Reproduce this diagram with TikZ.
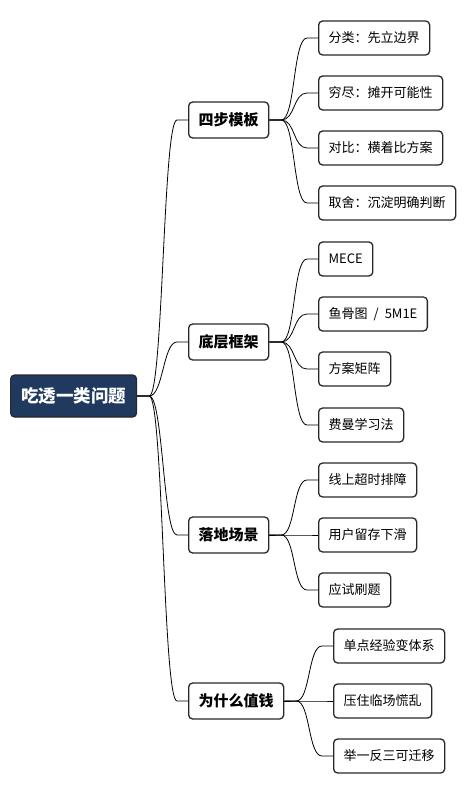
\documentclass[tikz,border=0pt]{standalone}
\usepackage{fontspec}
\setmainfont{Noto Sans CJK SC}
\definecolor{rootblue}{RGB}{31,58,94}
\definecolor{edgegray}{RGB}{40,40,40}
\tikzset{
  rootbox/.style={draw=edgegray,fill=rootblue,text=white,rounded corners=4pt,line width=1.2pt,
    font=\fontsize{17.5}{20}\selectfont\bfseries,inner xsep=10.5pt,minimum height=42pt,anchor=west},
  topicbox/.style={draw=edgegray,rounded corners=4pt,line width=1.3pt,
    font=\fontsize{15}{18}\selectfont\bfseries,inner xsep=10pt,minimum height=36pt,anchor=west},
  leafbox/.style={draw=edgegray,rounded corners=4pt,line width=1.3pt,
    font=\fontsize{13}{16}\selectfont,inner xsep=10pt,minimum height=34pt,anchor=west},
  branch/.style={draw=black,line width=0.8pt},
}
\begin{document}
\begin{tikzpicture}[x=1pt,y=-1pt]
\useasboundingbox (0,0) rectangle (475,794);
% root
\node[rootbox] (root) at (10,396) {吃透一类问题};
% main topics
\node[topicbox] (t1) at (188,120) {四步模板};
\node[topicbox] (t2) at (188,342) {底层框架};
\node[topicbox] (t3) at (188,535) {落地场景};
\node[topicbox] (t4) at (188,701) {为什么值钱};
% four steps
\node[leafbox] (a1) at (318,38)  {分类：先立边界};
\node[leafbox] (a2) at (318,93)  {穷尽：摊开可能性};
\node[leafbox] (a3) at (318,148) {对比：横着比方案};
\node[leafbox] (a4) at (318,203) {取舍：沉淀明确判断};
% frameworks
\node[leafbox] (b1) at (318,259) {MECE};
\node[leafbox] (b2) at (318,314) {鱼骨图\hspace{6pt}/\hspace{6pt}5M1E};
\node[leafbox] (b3) at (318,369) {方案矩阵};
\node[leafbox] (b4) at (318,425) {费曼学习法};
% scenes
\node[leafbox] (c1) at (318,480) {线上超时排障};
\node[leafbox] (c2) at (318,535) {用户留存下滑};
\node[leafbox] (c3) at (318,590) {应试刷题};
% value
\node[leafbox] (d1) at (333,646) {单点经验变体系};
\node[leafbox] (d2) at (333,701) {压住临场慌乱};
\node[leafbox] (d3) at (333,756) {举一反三可迁移};
% branches
\foreach \p/\c in {root/t1,root/t2,root/t3,root/t4,
                   t1/a1,t1/a2,t1/a3,t1/a4,
                   t2/b1,t2/b2,t2/b3,t2/b4,
                   t3/c1,t3/c2,t3/c3,
                   t4/d1,t4/d2,t4/d3}
  \draw[branch] (\p.east) -- ++(12,0) .. controls +(14,0) and +(-14,0) .. ([xshift=-11pt]\c.west) -- (\c.west);
\end{tikzpicture}
\end{document}
